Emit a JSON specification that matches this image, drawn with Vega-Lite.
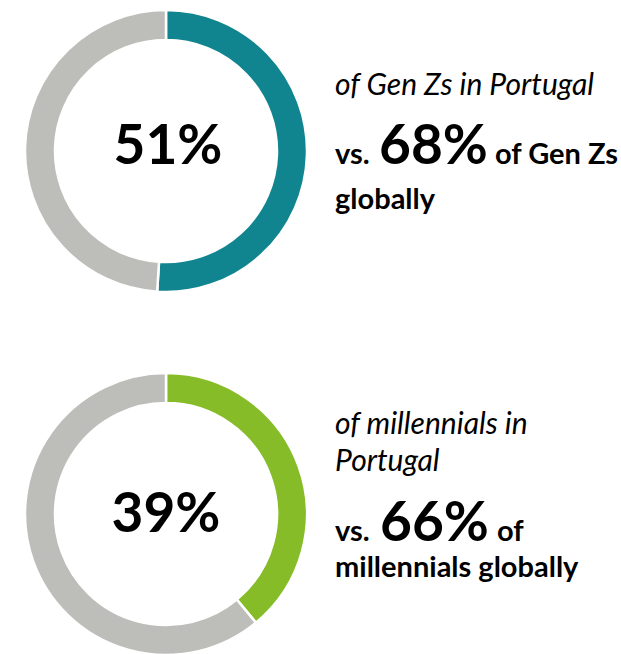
{
  "$schema": "https://vega.github.io/schema/vega-lite/v6.json",
  "padding": {"left": 20, "top": 5, "right": 0, "bottom": 0},
  "background": "white",
  "config": {"view": {"stroke": null}, "font": "Lato"},
  "datasets": {
    "donut": [
      {"panel": "genz", "key": "genz-Portugal", "value": 51, "idx": 1},
      {"panel": "genz", "key": "genz-rest", "value": 49, "idx": 2},
      {"panel": "mill", "key": "mill-Portugal", "value": 39, "idx": 1},
      {"panel": "mill", "key": "mill-rest", "value": 61, "idx": 2}
    ],
    "centre": [
      {"panel": "genz", "label": "51%"},
      {"panel": "mill", "label": "39%"}
    ],
    "texts": [
      {"panel": "genz", "line": 1, "slot": 1, "style": "italic", "text": "of Gen Zs in Portugal"},
      {"panel": "genz", "line": 2, "slot": 1, "style": "small", "text": "vs."},
      {"panel": "genz", "line": 2, "slot": 2, "style": "big", "text": "68%"},
      {"panel": "genz", "line": 2, "slot": 3, "style": "small", "text": "of Gen Zs"},
      {"panel": "genz", "line": 3, "slot": 1, "style": "small", "text": "globally"},
      {"panel": "mill", "line": 1, "slot": 1, "style": "italic", "text": "of millennials in"},
      {"panel": "mill", "line": 2, "slot": 1, "style": "italic", "text": "Portugal"},
      {"panel": "mill", "line": 3, "slot": 1, "style": "small", "text": "vs."},
      {"panel": "mill", "line": 3, "slot": 2, "style": "big", "text": "66%"},
      {"panel": "mill", "line": 3, "slot": 3, "style": "small", "text": "of"},
      {"panel": "mill", "line": 4, "slot": 1, "style": "small", "text": "millennials globally"}
    ]
  },
  "resolve": {"scale": {"x": "independent", "y": "independent", "color": "shared"}},
  "spacing": 71,
  "vconcat": [
    {
      "spacing": 23,
      "resolve": {"scale": {"x": "independent", "y": "independent"}},
      "hconcat": [
        {
          "width": 284, "height": 284,
          "layer": [
            {
              "data": {"name": "donut"},
              "transform": [{"filter": "datum.panel === 'genz'"}],
              "mark": {"type": "arc", "outerRadius": 141, "innerRadius": 111, "stroke": "white", "strokeWidth": 2.5},
              "encoding": {
                "theta": {"field": "value", "type": "quantitative", "stack": true},
                "order": {"field": "idx", "type": "quantitative"},
                "color": {"field": "key", "type": "nominal", "legend": null,
                  "scale": {"domain": ["genz-Portugal", "genz-rest", "mill-Portugal", "mill-rest"],
                            "range": ["#10858F", "#BDBEB9", "#86BC28", "#BDBEB9"]}}
              }
            },
            {
              "data": {"name": "centre"},
              "transform": [{"filter": "datum.panel === 'genz'"}],
              "mark": {"type": "text", "fontSize": 55, "fontWeight": "bold", "color": "black", "baseline": "alphabetic", "align": "center", "dy": 13, "dx": 2},
              "encoding": {"text": {"field": "label"}}
            }
          ]
        },
        {
          "width": 288, "height": 284,
          "data": {"name": "texts"},
          "transform": [{"filter": "datum.panel === 'genz'"}],
          "encoding": {
            "x": {"field": "slot", "type": "quantitative", "axis": null, "scale": {"domain": [1, 2, 3], "range": [0, 44, 160]}},
            "y": {"field": "line", "type": "quantitative", "axis": null, "scale": {"domain": [1, 2, 3], "range": [86, 155, 200]}},
            "text": {"field": "text"}
          },
          "layer": [
            {"transform": [{"filter": "datum.style === 'italic'"}],
             "mark": {"type": "text", "align": "left", "baseline": "alphabetic", "fontSize": 30, "fontStyle": "italic", "color": "black"}},
            {"transform": [{"filter": "datum.style === 'small'"}],
             "mark": {"type": "text", "align": "left", "baseline": "alphabetic", "fontSize": 29, "fontWeight": "bold", "color": "black"}},
            {"transform": [{"filter": "datum.style === 'big'"}],
             "mark": {"type": "text", "align": "left", "baseline": "alphabetic", "fontSize": 55, "fontWeight": "bold", "color": "black"}}
          ]
        }
      ]
    },
    {
      "spacing": 23,
      "resolve": {"scale": {"x": "independent", "y": "independent"}},
      "hconcat": [
        {
          "width": 284, "height": 284,
          "layer": [
            {
              "data": {"name": "donut"},
              "transform": [{"filter": "datum.panel === 'mill'"}],
              "mark": {"type": "arc", "outerRadius": 141, "innerRadius": 111, "stroke": "white", "strokeWidth": 2.5},
              "encoding": {
                "theta": {"field": "value", "type": "quantitative", "stack": true},
                "order": {"field": "idx", "type": "quantitative"},
                "color": {"field": "key", "type": "nominal", "legend": null,
                  "scale": {"domain": ["genz-Portugal", "genz-rest", "mill-Portugal", "mill-rest"],
                            "range": ["#10858F", "#BDBEB9", "#86BC28", "#BDBEB9"]}}
              }
            },
            {
              "data": {"name": "centre"},
              "transform": [{"filter": "datum.panel === 'mill'"}],
              "mark": {"type": "text", "fontSize": 55, "fontWeight": "bold", "color": "black", "baseline": "alphabetic", "align": "center", "dy": 18},
              "encoding": {"text": {"field": "label"}}
            }
          ]
        },
        {
          "width": 288, "height": 284,
          "data": {"name": "texts"},
          "transform": [{"filter": "datum.panel === 'mill'"}],
          "encoding": {
            "x": {"field": "slot", "type": "quantitative", "axis": null, "scale": {"domain": [1, 2, 3], "range": [0, 45, 162]}},
            "y": {"field": "line", "type": "quantitative", "axis": null, "scale": {"domain": [1, 2, 3, 4], "range": [62, 99, 169, 205]}},
            "text": {"field": "text"}
          },
          "layer": [
            {"transform": [{"filter": "datum.style === 'italic'"}],
             "mark": {"type": "text", "align": "left", "baseline": "alphabetic", "fontSize": 30, "fontStyle": "italic", "color": "black"}},
            {"transform": [{"filter": "datum.style === 'small'"}],
             "mark": {"type": "text", "align": "left", "baseline": "alphabetic", "fontSize": 29, "fontWeight": "bold", "color": "black"}},
            {"transform": [{"filter": "datum.style === 'big'"}],
             "mark": {"type": "text", "align": "left", "baseline": "alphabetic", "fontSize": 55, "fontWeight": "bold", "color": "black"}}
          ]
        }
      ]
    }
  ]
}
